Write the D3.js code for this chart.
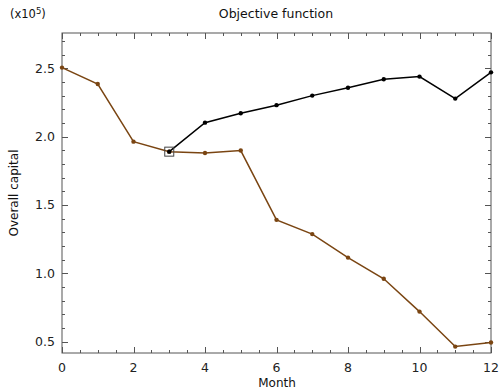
<!DOCTYPE html>
<html><head><meta charset="utf-8">
<script src="https://cdn.jsdelivr.net/npm/d3@7"></script>
<style>body{margin:0;background:#fff}svg{display:block;font-family:"DejaVu Sans",sans-serif}</style>
</head><body>
<script>
const monthsA = [0,1,2,3,4,5,6,7,8,9,10,11,12];
const capitalA = [2.505,2.385,1.963,1.89,1.88,1.898,1.391,1.287,1.115,0.96,0.72,0.464,0.494];
const monthsB = [3,4,5,6,7,8,9,10,11,12];
const capitalB = [1.89,2.102,2.171,2.23,2.30,2.358,2.42,2.439,2.278,2.47];
const xMajorTicks = [0,2,4,6,8,10,12];
const yMajorTicks = [0.5,1.0,1.5,2.0,2.5];
const title = "Objective function";
const xLabel = "Month";
const yLabel = "Overall capital";

const W=501,H=390, L=62,R=491,T=33,B=353;
const svg=d3.select("body").append("svg").attr("width",W).attr("height",H);
const x=d3.scaleLinear().domain([0,12]).range([L,R]);
const y=d3.scaleLinear().domain([0.417,2.758]).range([B,T]);
const axc="#555";
const xMinor=d3.range(0,12.01,0.5), yMinor=d3.range(0.5,2.71,0.1);
const g=svg.append("g");
g.append("rect").attr("x",L).attr("y",T).attr("width",R-L).attr("height",B-T).attr("fill","none").attr("stroke",axc).attr("stroke-width",1);
function isMajX(v){return Math.abs(v/2-Math.round(v/2))<1e-6;}
function isMajY(v){return Math.abs(v/0.5-Math.round(v/0.5))<1e-6;}
xMinor.forEach(v=>{const len=isMajX(v)?6:3;const px=Math.round(x(v))+0.5;
 g.append("line").attr("x1",px).attr("x2",px).attr("y1",B).attr("y2",B-len).attr("stroke",axc);
 g.append("line").attr("x1",px).attr("x2",px).attr("y1",T).attr("y2",T+len).attr("stroke",axc);});
yMinor.forEach(v=>{const len=isMajY(v)?6:3;const py=Math.round(y(v))+0.5;
 g.append("line").attr("y1",py).attr("y2",py).attr("x1",L).attr("x2",L+len).attr("stroke",axc);
 g.append("line").attr("y1",py).attr("y2",py).attr("x1",R).attr("x2",R-len).attr("stroke",axc);});
xMajorTicks.forEach(v=>g.append("text").attr("x",x(v)).attr("y",372).attr("text-anchor","middle").attr("font-size",12.5).attr("fill","#222").text(v));
yMajorTicks.forEach(v=>g.append("text").attr("x",55).attr("y",y(v)+4.5).attr("text-anchor","end").attr("font-size",12.5).attr("fill","#222").text(v.toFixed(1)));
svg.append("text").attr("x",276).attr("y",18).attr("text-anchor","middle").attr("font-size",12.5).attr("fill","#111").text(title);
const e=svg.append("text").attr("x",10).attr("y",18).attr("font-size",11.5).attr("fill","#111");
e.append("tspan").text("(x10");e.append("tspan").attr("dy",-4).attr("font-size",8.5).text("5");e.append("tspan").attr("dy",4).text(")");
svg.append("text").attr("x",277).attr("y",386.5).attr("text-anchor","middle").attr("font-size",12).attr("fill","#111").text(xLabel);
svg.append("text").attr("transform","translate(18,193) rotate(-90)").attr("text-anchor","middle").attr("font-size",12).attr("fill","#111").text(yLabel);

const line=d3.line().x(d=>x(d[0])).y(d=>y(d[1]));
const dA=monthsA.map((m,i)=>[m,capitalA[i]]), dB=monthsB.map((m,i)=>[m,capitalB[i]]);
const brown="#7a4512";
svg.append("path").attr("d",line(dA)).attr("fill","none").attr("stroke",brown).attr("stroke-width",1.5);
svg.selectAll(".pa").data(dA).enter().append("circle").attr("cx",d=>x(d[0])).attr("cy",d=>y(d[1])).attr("r",2.2).attr("fill",brown);
svg.append("path").attr("d",line(dB)).attr("fill","none").attr("stroke","#000").attr("stroke-width",1.5);
svg.selectAll(".pb").data(dB).enter().append("circle").attr("cx",d=>x(d[0])).attr("cy",d=>y(d[1])).attr("r",2.2).attr("fill","#000");
svg.append("rect").attr("x",x(dB[0][0])-4.5).attr("y",y(dB[0][1])-4.5).attr("width",9).attr("height",9).attr("fill","none").attr("stroke","#444").attr("stroke-width",1);
</script>
</body></html>
